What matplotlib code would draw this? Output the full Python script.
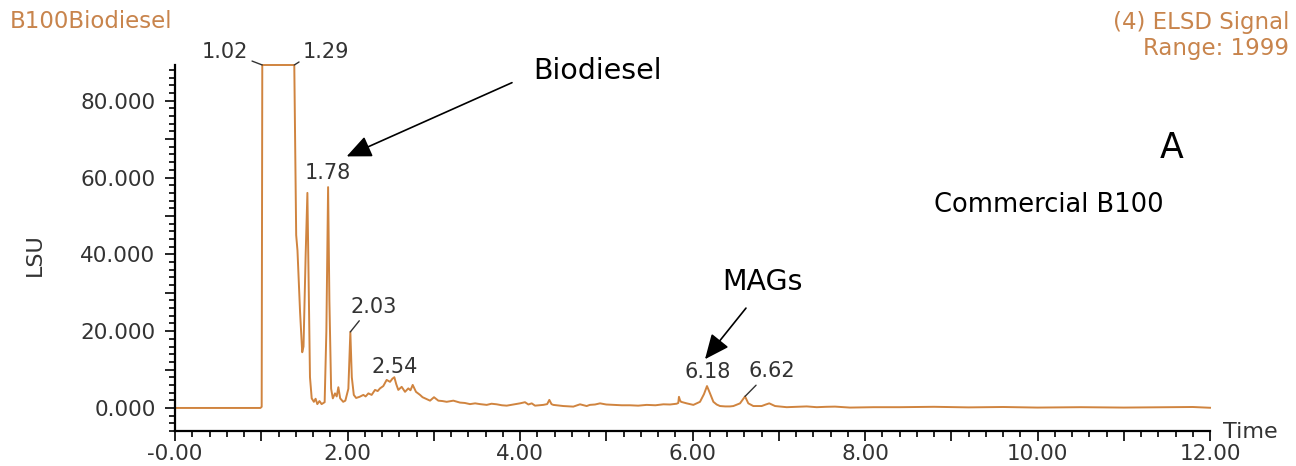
import matplotlib
matplotlib.use('Agg')
import matplotlib.pyplot as plt
import matplotlib.ticker as mticker

# ELSD trace: retention time (min) vs LSU
time = [0.00, 0.50, 0.99, 1.005, 1.012, 1.383, 1.405, 1.42, 1.45, 1.475,
        1.49, 1.515, 1.535, 1.548, 1.565, 1.585, 1.61, 1.63, 1.65, 1.675,
        1.70, 1.735, 1.755, 1.775, 1.79, 1.81, 1.83, 1.855, 1.875, 1.894,
        1.915, 1.95, 1.975, 2.01, 2.033, 2.05, 2.073, 2.10, 2.14, 2.184,
        2.21, 2.242, 2.28, 2.319, 2.35, 2.377, 2.415, 2.454, 2.493, 2.52,
        2.543, 2.565, 2.589, 2.628, 2.667, 2.705, 2.73, 2.756, 2.794, 2.841,
        2.87, 2.899, 2.957, 3.003, 3.053, 3.10, 3.15, 3.227, 3.304, 3.36,
        3.42, 3.48, 3.536, 3.614, 3.67, 3.73, 3.79, 3.846, 3.92, 4.00,
        4.058, 4.097, 4.136, 4.174, 4.27, 4.315, 4.34, 4.365, 4.386, 4.502,
        4.618, 4.696, 4.773, 4.81, 4.87, 4.928, 5.00, 5.082, 5.18, 5.275,
        5.37, 5.469, 5.57, 5.662, 5.74, 5.816, 5.835, 5.843, 5.855, 5.867,
        5.932, 6.01, 6.087, 6.133, 6.168, 6.203, 6.242, 6.28, 6.319, 6.38,
        6.435, 6.474, 6.551, 6.609, 6.647, 6.705, 6.802, 6.85, 6.89, 6.957,
        7.092, 7.20, 7.324, 7.44, 7.55, 7.652, 7.826, 8.10, 8.406, 8.80,
        9.20, 9.60, 10.00, 10.50, 11.00, 11.50, 11.80, 12.00]
signal = [0.0, 0.0, 0.0, 0.3, 89.3, 89.3, 45.0, 41.0, 25.0, 14.5,
          16.0, 40.0, 56.0, 35.0, 8.0, 2.5, 1.6, 2.4, 1.0, 1.8,
          1.0, 1.5, 20.0, 57.5, 28.0, 5.0, 2.5, 3.8, 3.0, 5.4,
          2.5, 1.6, 1.9, 5.0, 19.8, 8.0, 3.4, 2.6, 2.9, 3.4,
          3.0, 3.8, 3.4, 4.7, 4.4, 5.1, 5.7, 7.3, 6.8, 7.6,
          8.0, 6.2, 4.7, 5.5, 4.2, 5.1, 4.6, 6.0, 4.2, 3.4,
          2.8, 2.5, 1.9, 2.8, 1.9, 1.8, 1.6, 1.9, 1.4, 1.3,
          1.0, 1.2, 1.0, 0.8, 1.1, 0.95, 0.7, 0.6, 0.9, 1.2,
          1.5, 0.9, 1.2, 0.6, 0.8, 1.0, 2.1, 1.0, 0.8, 0.5,
          0.35, 0.95, 0.5, 0.8, 0.9, 1.2, 0.9, 0.8, 0.7, 0.7,
          0.6, 0.8, 0.7, 0.95, 0.9, 1.1, 1.3, 2.9, 2.0, 1.6,
          1.2, 0.8, 1.6, 3.6, 5.7, 3.8, 1.6, 0.9, 0.5, 0.4,
          0.4, 0.5, 1.2, 3.0, 1.2, 0.5, 0.5, 0.9, 1.2, 0.5,
          0.2, 0.3, 0.4, 0.2, 0.3, 0.35, 0.1, 0.2, 0.2, 0.3,
          0.15, 0.25, 0.1, 0.2, 0.1, 0.2, 0.25, 0.05]

# integrated peaks (label, apex time, apex height)
peak_labels = ['1.02', '1.29', '1.78', '2.03', '2.54', '6.18', '6.62']
peak_t = [1.012, 1.383, 1.775, 2.033, 2.543, 6.168, 6.609]
peak_v = [89.3, 89.3, 57.5, 19.8, 8.0, 5.7, 3.0]

x_ticks = [0, 1, 2, 3, 4, 5, 6, 7, 8, 9, 10, 11, 12]
x_tick_labels = ['-0.00', '', '2.00', '', '4.00', '', '6.00', '', '8.00', '', '10.00', '', '12.00']
y_ticks = [0, 10, 20, 30, 40, 50, 60, 70, 80]
y_tick_labels = ['0.000', '', '20.000', '', '40.000', '', '60.000', '', '80.000']

trace_col = '#D0843F'
head_col = '#C8844C'
txt_col = '#333333'

# label offsets (points) and leader anchor on the text box
label_off = [(-27, 9), (23, 9), (0, 10), (17, 18), (0, 7.5), (0.5, 10), (19, 18)]
leader_rel = [(1, 0.15), (0, 0.15), None, (0.25, 0), None, None, (0.25, 0)]

fig = plt.figure(figsize=(12.96, 4.66), dpi=100)
ax = fig.add_axes([175 / 1296, 1 - 431 / 466, 1035 / 1296, 366 / 466])

ax.plot(time, signal, color=trace_col, lw=1.4, clip_on=False)
ax.set_xlim(0, 12)
ax.set_ylim(-6, 89.3)

for s in ['top', 'right']:
    ax.spines[s].set_visible(False)
for s in ['left', 'bottom']:
    ax.spines[s].set_linewidth(1.6)

ax.set_xticks(x_ticks, labels=x_tick_labels)
ax.set_yticks(y_ticks, labels=y_tick_labels)
ax.xaxis.set_minor_locator(mticker.MultipleLocator(0.2))
ax.yaxis.set_minor_locator(mticker.MultipleLocator(2))
ax.tick_params(which='major', direction='out', length=7.5, width=1.2,
               labelsize=15.5, labelcolor=txt_col)
ax.tick_params(which='minor', direction='out', length=4, width=1.2)
ax.tick_params(axis='x', which='major', pad=2)
ax.tick_params(axis='y', which='major', pad=6.5)

# peak labels
for lab, t, v, off, rel in zip(peak_labels, peak_t, peak_v, label_off, leader_rel):
    kw = {}
    if rel is not None:
        kw['arrowprops'] = dict(arrowstyle='-', color=txt_col, lw=1.0,
                                relpos=rel, shrinkA=1, shrinkB=0)
    ax.annotate(lab, xy=(t, v), xytext=off, textcoords='offset points',
                ha='center', va='center', fontsize=15, color=txt_col,
                annotation_clip=False, **kw)

# call-out arrows
arrow_kw = dict(arrowstyle='-|>,head_length=0.95,head_width=0.42',
                mutation_scale=16, color='black', lw=1.2, shrinkA=0, shrinkB=0)
ax.annotate('', xy=(1.99, 65.5), xytext=(3.907, 84.7), arrowprops=arrow_kw)
ax.text(4.893, 87.8, 'Biodiesel', ha='center', va='center', fontsize=20.5, color='black')
ax.annotate('', xy=(6.145, 12.7), xytext=(6.62, 26.0), arrowprops=arrow_kw)
ax.text(6.817, 32.7, 'MAGs', ha='center', va='center', fontsize=20.5, color='black')

ax.text(0.963, 0.773, 'A', transform=ax.transAxes, ha='center', va='center',
        fontsize=25, color='black')
ax.text(0.8444, 0.6175, 'Commercial B100', transform=ax.transAxes, ha='center',
        va='center', fontsize=18.5, color='black')

# header / axis titles
fig.text(10 / 1296, 1 - 22 / 466, 'B100Biodiesel', ha='left', va='center',
         fontsize=16.5, color=head_col)
fig.text(1289 / 1296, 1 - 22 / 466, '(4) ELSD Signal', ha='right', va='center',
         fontsize=16.5, color=head_col)
fig.text(1289 / 1296, 1 - 49 / 466, 'Range: 1999', ha='right', va='center',
         fontsize=16.5, color=head_col)
fig.text(35 / 1296, 1 - 255 / 466, 'LSU', rotation=90, ha='center', va='center',
         fontsize=16, color=txt_col)
fig.text(1250 / 1296, 1 - 432 / 466, 'Time', ha='center', va='center',
         fontsize=16, color=txt_col)

fig.savefig('out.png', dpi=100)
